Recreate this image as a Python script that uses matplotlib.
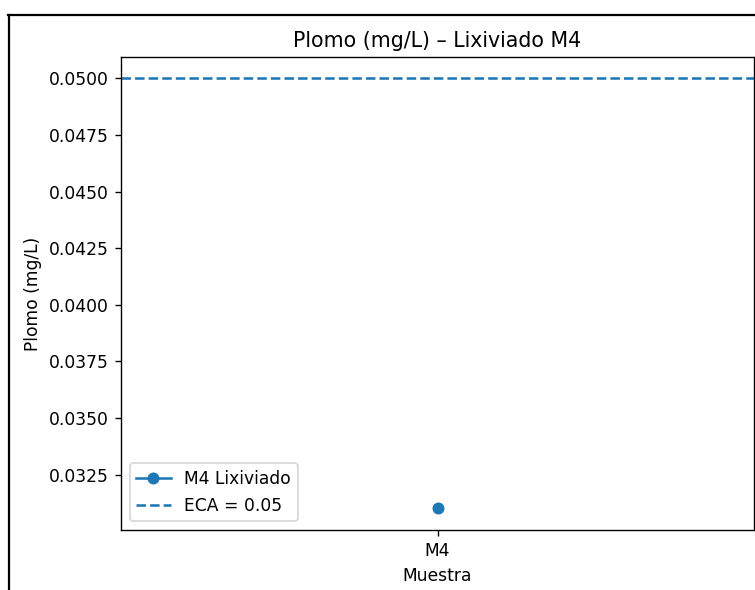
import matplotlib
matplotlib.use("Agg")
import matplotlib.pyplot as plt
from matplotlib.lines import Line2D

muestras = ["M4"]
plomo = [0.031]
eca_limite = 0.05

W, H, DPI = 755, 590, 123
fig = plt.figure(figsize=(W / DPI, H / DPI), dpi=DPI)

# axes placed in pixel terms
left, right, top, bottom = 121, 754, 57, 530
ax = fig.add_axes([left / W, 1 - bottom / H, (right - left) / W, (bottom - top) / H])

ax.plot(muestras, plomo, marker="o", label="M4 Lixiviado")
ax.axhline(eca_limite, linestyle="--", label=f"ECA = {eca_limite}")
ax.set_title("Plomo (mg/L) – Lixiviado M4")
ax.set_xlabel("Muestra")
ax.set_ylabel("Plomo (mg/L)")
ax.legend(loc="lower left")

# frame around the figure (left and top edges)
fig.add_artist(Line2D([8.5 / W, 8.5 / W], [0, 1 - 15 / H], transform=fig.transFigure,
                      color="black", linewidth=1.3))
fig.add_artist(Line2D([8 / W, 1], [1 - 15 / H, 1 - 15 / H], transform=fig.transFigure,
                      color="black", linewidth=1.3))

fig.savefig("out.png", dpi=DPI)
